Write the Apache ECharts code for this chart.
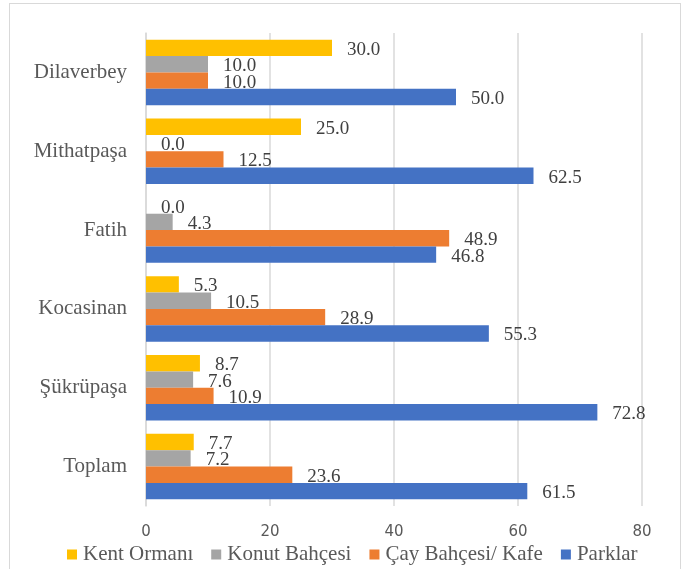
<!DOCTYPE html>
<html>
<head>
<meta charset="utf-8">
<script src="https://cdn.jsdelivr.net/npm/echarts@6/dist/echarts.min.js"></script>
<style>
  html, body { margin: 0; padding: 0; background: #fff; }
  #wrap { position: relative; width: 686px; height: 569px; }
  #frame { position: absolute; left: 9px; top: 3px; width: 672px; height: 580px; border: 1px solid #d9d9d9; box-sizing: border-box; }
  #chart { position: absolute; left: 0; top: 0; width: 686px; height: 569px; }
</style>
</head>
<body>
<div id="wrap">
  <div id="frame"></div>
  <div id="chart"></div>
</div>
<script>
// neighbourhoods, top to bottom
var categories = ['Dilaverbey', 'Mithatpaşa', 'Fatih', 'Kocasinan', 'Şükrüpaşa', 'Toplam']
var seriesNames = ['Kent Ormanı', 'Konut Bahçesi', 'Çay Bahçesi/ Kafe', 'Parklar']

var kentOrmani = [30.0, 25.0, 0.0, 5.3, 8.7, 7.7]
var konutBahcesi = [10.0, 0.0, 4.3, 10.5, 7.6, 7.2]
var cayBahcesi = [10.0, 12.5, 48.9, 28.9, 10.9, 23.6]
var parklar = [50.0, 62.5, 46.8, 55.3, 72.8, 61.5]

var xTicks = [0, 20, 40, 60, 80]

var colors = ['#FFC000', '#A5A5A5', '#ED7D31', '#4472C4']
var serif = '"Liberation Serif", "DejaVu Serif", serif'

function makeSeries(name, data, color) {
  return {
    name: name,
    type: 'bar',
    data: data,
    barGap: '0%',
    barCategoryGap: '17%',
    itemStyle: { color: color },
    label: {
      show: true,
      position: 'right',
      distance: 15,
      offset: [0, 2],
      color: '#404040',
      fontFamily: serif,
      fontSize: 19,
      formatter: function (p) { return p.value.toFixed(1) }
    },
    animation: false
  }
}

var chart = echarts.init(document.getElementById('chart'))
chart.setOption({
  grid: {
    left: 146,
    right: 44,
    top: 33,
    bottom: 63,
    containLabel: false
  },
  legend: {
    data: seriesNames,
    left: 62,
    top: 539,
    icon: 'rect',
    itemWidth: 10,
    itemHeight: 10,
    itemGap: 18,
    textStyle: {
      color: '#595959',
      fontFamily: serif,
      fontSize: 21,
      padding: [0, 0, 0, 1]
    }
  },
  xAxis: {
    type: 'value',
    min: xTicks[0],
    max: xTicks[xTicks.length - 1],
    interval: 20,
    axisLine: { show: false },
    axisTick: { show: false },
    splitLine: { lineStyle: { color: '#d9d9d9', width: 1.5 } },
    axisLabel: {
      color: '#595959',
      fontFamily: '"DejaVu Sans", sans-serif',
      fontSize: 15,
      margin: 19
    }
  },
  yAxis: {
    type: 'category',
    data: categories,
    inverse: true,
    axisLine: { show: true, lineStyle: { color: '#d9d9d9', width: 1.5 } },
    axisTick: { show: false },
    axisLabel: {
      color: '#595959',
      fontFamily: serif,
      fontSize: 21,
      margin: 19
    }
  },
  series: [
    makeSeries(seriesNames[0], kentOrmani, colors[0]),
    makeSeries(seriesNames[1], konutBahcesi, colors[1]),
    makeSeries(seriesNames[2], cayBahcesi, colors[2]),
    makeSeries(seriesNames[3], parklar, colors[3])
  ]
})
</script>
</body>
</html>
